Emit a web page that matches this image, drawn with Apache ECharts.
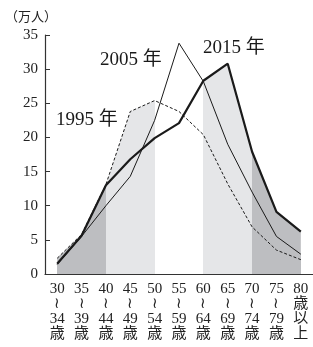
<!DOCTYPE html>
<html>
<head>
<meta charset="utf-8">
<title>年齢別人口</title>
<script src="https://cdn.jsdelivr.net/npm/echarts@6/dist/echarts.min.js"></script>
<style>
	html, body { margin: 0; padding: 0; background: #fff; }
	#main { width: 313px; height: 347px; }
</style>
</head>
<body>
<div id="main"></div>
<script type="text/javascript">
	// 年齢区分
	var ages = ['30\n≀\n34\n歳', '35\n≀\n39\n歳', '40\n≀\n44\n歳', '45\n≀\n49\n歳', '50\n≀\n54\n歳',
		'55\n≀\n59\n歳', '60\n≀\n64\n歳', '65\n≀\n69\n歳', '70\n≀\n74\n歳', '75\n≀\n79\n歳', '80\n歳\n以\n上'];
	// 各年の人数（万人）
	var y1995 = [2.3, 5.8, 13.1, 23.8, 25.4, 23.8, 20.4, 13.2, 6.9, 3.5, 2.1];
	var y2005 = [1.4, 5.5, 10.0, 14.3, 22.5, 33.8, 28.2, 19.0, 12.0, 5.5, 2.9];
	var y2015 = [1.5, 5.6, 13.0, 16.8, 19.9, 22.1, 28.3, 30.8, 17.9, 9.1, 6.2];

	var myChart = echarts.init(document.getElementById('main'));
	var serif = '"Liberation Serif", "DejaVu Serif", "Noto Sans CJK JP", serif';
	var ink = '#1a1a1a';

	// 下の塗り（帯ごとに色分け）
	function fill(arr) {
		return {
			type: 'line', data: arr, symbol: 'none', silent: true, z: 1,
			lineStyle: { width: 0 },
			areaStyle: { opacity: 1 }
		};
	}
	function line(arr, w, dash) {
		return {
			type: 'line', data: arr, symbol: 'none', silent: true, z: 3,
			lineStyle: { color: ink, width: w, type: dash || 'solid' }
		};
	}

	var option = {
		animation: false,
		title: {
			text: '（万人）', left: 0, top: 6,
			textStyle: { fontFamily: serif, fontSize: 13, fontWeight: 'normal', color: '#222' }
		},
		grid: { left: 45, right: -4, top: 35, bottom: 73 },
		xAxis: {
			type: 'category', data: ages, boundaryGap: true,
			axisLine: { lineStyle: { color: '#333', width: 1.2 } },
			axisTick: { inside: true, alignWithLabel: true, length: 5, lineStyle: { color: '#333' } },
			axisLabel: { interval: 0, margin: 8, fontFamily: serif, fontSize: 15, lineHeight: 15, color: '#222' }
		},
		yAxis: {
			type: 'value', min: 0, max: 35, interval: 5,
			axisLine: { show: true, lineStyle: { color: '#333', width: 1.2 } },
			axisTick: { show: true, inside: true, length: 5, lineStyle: { color: '#333' } },
			splitLine: { show: false },
			axisLabel: { margin: 7, fontFamily: serif, fontSize: 15, color: '#222' }
		},
		visualMap: {
			type: 'piecewise', show: false, dimension: 0, seriesIndex: [0, 1, 2],
			pieces: [
				{ lt: 2, color: '#bdbec1' },
				{ gte: 2, lt: 4, color: '#e5e6e8' },
				{ gte: 4, lt: 6, color: '#ffffff' },
				{ gte: 6, lt: 8, color: '#e5e6e8' },
				{ gte: 8, color: '#bdbec1' }
			]
		},
		graphic: [
			{ type: 'text', left: 100, top: 51, style: { text: '2005 年', font: '19px ' + serif, fill: ink } },
			{ type: 'text', left: 203, top: 39, style: { text: '2015 年', font: '19px ' + serif, fill: ink } },
			{ type: 'text', left: 56, top: 111, style: { text: '1995 年', font: '19px ' + serif, fill: ink } }
		],
		series: [
			fill(y1995), fill(y2005), fill(y2015),
			line(y1995, 1, [3, 2]),
			line(y2005, 1),
			line(y2015, 2.2)
		]
	};

	myChart.setOption(option);
</script>
</body>
</html>
